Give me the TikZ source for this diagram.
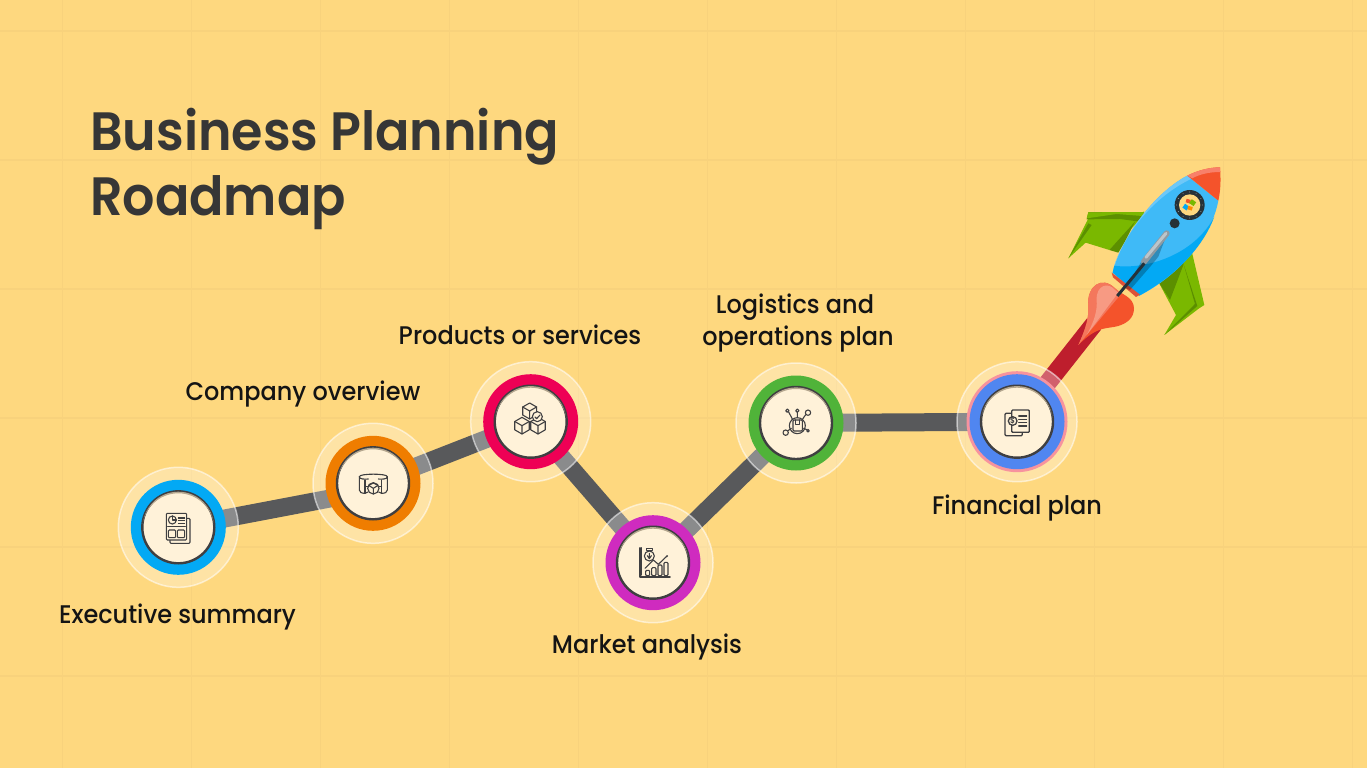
\documentclass[tikz,border=0pt]{standalone}
\usepackage{fontspec}
\setmainfont{Poppins}[UprightFont=* Medium,BoldFont=* SemiBold,FakeStretch=0.94]
\usetikzlibrary{backgrounds}
\pgfdeclarelayer{gridlayer}
\pgfdeclarelayer{roadlayer}
\pgfsetlayers{gridlayer,roadlayer,main}
\definecolor{bgc}{HTML}{FED87F}
\definecolor{gridc}{HTML}{F8D27C}
\definecolor{roadc}{HTML}{58595B}
\definecolor{trailc}{HTML}{BE1E2D}
\definecolor{creamc}{HTML}{FFF2D9}
\definecolor{inkc}{HTML}{3F3F41}
\definecolor{shadec}{HTML}{B5A78F}
\definecolor{titlec}{HTML}{363636}
\definecolor{labelc}{HTML}{141414}
\definecolor{ra}{HTML}{03A9F4}
\definecolor{rb}{HTML}{EF7D00}
\definecolor{rc}{HTML}{EE0055}
\definecolor{rd}{HTML}{CF2BBF}
\definecolor{re}{HTML}{50B339}
\definecolor{rf}{HTML}{5086F0}
\definecolor{pinkc}{HTML}{F7939E}
\definecolor{bodyc}{HTML}{3FBAF7}
\definecolor{bodyd}{HTML}{03A9F4}
\definecolor{bodyl}{HTML}{6EC8F8}
\definecolor{nosec}{HTML}{F4532B}
\definecolor{nosel}{HTML}{F8806A}
\definecolor{bandc}{HTML}{DE5238}
\definecolor{flamea}{HTML}{F4532B}
\definecolor{flameb}{HTML}{F4775C}
\definecolor{flamec}{HTML}{F79A83}
\definecolor{winga}{HTML}{7AB800}
\definecolor{wingd}{HTML}{5C8F00}
\definecolor{windc}{HTML}{263238}
\definecolor{pina}{HTML}{8E9AA2}
\definecolor{pinb}{HTML}{BCC5CA}
\tikzset{
  gridline/.style={gridc,line width=1.2pt},
  halo/.style={circle,inner sep=0pt,minimum size=120pt,fill=white,fill opacity=.3,draw=white,draw opacity=.55,line width=1.5pt},
  ringnode/.style={circle,inner sep=0pt,minimum size=95pt,fill=#1},
  hub/.style={circle,inner sep=0pt,minimum size=72pt,fill=creamc,draw=inkc,line width=2.4pt},
  road/.style={roadc,line width=18pt},
  trail/.style={trailc,line width=18pt},
  steplabel/.style={text=labelc,font=\fontsize{25.5}{30}\selectfont,inner sep=0pt,anchor=base},
  titletext/.style={text=titlec,font=\fontsize{54}{60}\selectfont\bfseries,inner sep=0pt,anchor=base west},
  icon/.style={inkc,line width=1.1pt,line join=round,line cap=round},
  zoomed/.style 2 args={shift={(#1,#2)},x=.3333pt,y=-.3333pt},
}
\begin{document}
\begin{tikzpicture}[x=1pt,y=-1pt]
\useasboundingbox (0,0) rectangle (1367,768);
\begin{pgfonlayer}{gridlayer}
\fill[bgc] (0,0) rectangle (1367,768);
\foreach \gx in {62.6,191.6,320.6,449.6,578.6,707.6,836.6,965.6,1094.6,1223.6,1352.6}
  \draw[gridline] (\gx,0) -- (\gx,768);
\foreach \gy in {31,160,289,418,547,676}
  \draw[gridline] (0,\gy) -- (1367,\gy);
\end{pgfonlayer}

% stops
\node[halo] (ha) at (178.3,527.3) {};
\node[halo] (hb) at (373,483.3) {};
\node[halo] (hc) at (530.7,421.7) {};
\node[halo] (hd) at (653,562.7) {};
\node[halo] (he) at (796,423) {};
\node[halo] (hf) at (1017,421.7) {};
\node[circle,inner sep=0pt,minimum size=101pt,fill=pinkc] (pf) at (1017,421.7) {};
\node[ringnode=ra] (na) at (178.3,527.3) {};
\node[ringnode=rb] (nb) at (373,483.3) {};
\node[ringnode=rc] (nc) at (530.7,421.7) {};
\node[ringnode=rd] (nd) at (653,562.7) {};
\node[ringnode=re] (ne) at (796,423) {};
\node[ringnode=rf] (nf) at (1017,421.7) {};
\foreach \n in {a,b,c,d,e,f}{
  \node[hub] (i\n) at (n\n) {};
  \begin{scope}
    \clip (n\n.center) circle (35.6);
    \fill[shadec,even odd rule] (n\n.center) circle (37) ([yshift=-2pt]n\n.center) circle (36);
  \end{scope}
}
\coordinate (trailend) at (1094,324);
\begin{pgfonlayer}{roadlayer}
\draw[road] (na.center) -- ([yshift=-7pt]nb.center);
\draw[road] (nb.center) -- (nc.center);
\draw[road] (nc.center) -- (nd.center);
\draw[road] (nd.center) -- (ne.center);
\draw[road] (ne.center) -- (nf.center);
\draw[trail] (nf.center) -- (trailend);
\end{pgfonlayer}

% icon 1: report
\begin{scope}[zoomed={135}{490},icon]
\draw[fill=creamc,rounded corners=1pt] (105,85) rectangle (165,160);
\draw[fill=creamc,rounded corners=1pt] (94,70) rectangle (155,150);
\draw (112,90) circle (12);
\draw (112,78) -- (112,90) -- (124,90);
\draw (130,84) -- (149,84) (130,92) -- (149,92) (130,100) -- (149,100);
\draw (98,109) -- (151,109);
\draw[rounded corners=1pt] (100,120) rectangle (122,143);
\draw[rounded corners=1pt] (127,120) rectangle (149,143);
\end{scope}

% icon 2: cylinder
\begin{scope}[zoomed={345}{460},icon]
\draw (43,50) .. controls (43,40) and (127,40) .. (127,50) .. controls (127,58) and (110,58) .. (100,57)  (70,57) .. controls (60,58) and (43,58) .. (43,50);
\draw (43,50) -- (43,90) .. controls (43,97) and (50,100) .. (60,100) -- (69,96);
\draw (127,50) -- (127,90) .. controls (127,97) and (120,100) .. (110,100) -- (101,96);
\draw (60,60) -- (60,100) (110,60) -- (110,100);
\draw (60,80) -- (68,80) (102,80) -- (110,80);
\draw (85,85) circle (17);
\draw (85,85) -- (85,102) (85,85) -- (71,76) (85,85) -- (99,76);
\draw (71,76) -- (85,69) -- (99,76);
\end{scope}

% icon 3: cubes
\begin{scope}[zoomed={503}{395},icon]
\foreach \cx/\cy/\cr in {80/48/24,57/92/25,105/92/25}{
  \draw[fill=creamc] (\cx,\cy-\cr) -- (\cx+.87*\cr,\cy-.5*\cr) -- (\cx+.87*\cr,\cy+.5*\cr) -- (\cx,\cy+\cr) -- (\cx-.87*\cr,\cy+.5*\cr) -- (\cx-.87*\cr,\cy-.5*\cr) -- cycle;
  \draw (\cx,\cy) -- (\cx,\cy+\cr) (\cx,\cy) -- (\cx+.87*\cr,\cy-.5*\cr) (\cx,\cy) -- (\cx-.87*\cr,\cy-.5*\cr);
}
\draw[fill=creamc] (103,65) circle (15);
\draw (96,66) -- (101,71) -- (111,60);
\end{scope}

% icon 4: market chart
\begin{scope}[zoomed={625}{535},icon]
\draw (45,38) -- (45,125) (50,38) -- (50,120);
\draw[line width=1.8pt] (45,125) -- (135,125);
\draw[rounded corners=1pt] (62,106) rectangle (74,122);
\draw[rounded corners=1pt] (80,98) rectangle (93,122);
\draw[rounded corners=1pt] (99,90) rectangle (111,122);
\draw[rounded corners=1pt] (117,82) rectangle (129,122);
\draw (60,100) -- (85,75) -- (100,88) -- (125,64);
\fill[inkc] (126,63) circle (3);
\draw[fill=creamc] (73,63) circle (15);
\draw (65,41) rectangle (82,47);
\draw (69,47) -- (69,49) (78,47) -- (78,49);
\draw (73,55) -- (73,70) (67,62) -- (73,71) -- (79,62);
\end{scope}

% icon 5: network with parcel
\begin{scope}[zoomed={768}{395},icon]
\draw (88,52) -- (88,68) (62,51) -- (73,72) (113,59) -- (104,72) (60,107) -- (70,100) (116,104) -- (107,100);
\draw (58,47) circle (5) (88,47) circle (5) (120,53) circle (8) (53,113) circle (8) (120,107) circle (4);
\draw (88,92) circle (24);
\draw[rounded corners=1pt] (75,75) rectangle (103,108);
\draw (83,75) -- (83,88) -- (95,88) -- (95,75);
\end{scope}

% icon 6: financial documents
\begin{scope}[zoomed={990}{395},icon]
\draw[line width=1.3pt,rounded corners=1pt] (45,55) rectangle (97,122);
\draw[fill=creamc,line width=1.3pt,rounded corners=1pt] (65,45) rectangle (118,112);
\draw (86,63) -- (110,63) (86,73) -- (110,73) (86,83) -- (110,83) (86,93) -- (110,93);
\draw[fill=creamc,line width=1.3pt] (68,78) circle (13);
\node[inkc,inner sep=0pt,font=\fontsize{8}{8}\selectfont\bfseries] (dollar) at (68,78) {\$};
\end{scope}

% rocket
\begin{scope}[zoomed={1020}{150}]
% wings
\fill[winga] (205,187) -- (372,186) -- (345,225) -- (268,300) -- (197,278) -- (145,325) -- (205,205) -- cycle;
\fill[wingd] (200,208) -- (205,187) -- (372,186) -- (360,215) -- (300,207) -- cycle;
\fill[winga] (200,205) -- (205,187) -- (372,186) -- (368,198) -- (290,192) -- cycle;
\fill[wingd] (145,325) -- (205,220) -- (215,225) -- cycle;
\fill[wingd] (268,300) -- (345,215) -- (315,275) -- (295,308) -- cycle;
\fill[winga] (515,303) -- (553,465) -- (536,476) -- (433,555) -- (468,495) -- (415,395) -- cycle;
\fill[wingd] (490,340) -- (532,468) -- (433,555) -- (525,462) -- cycle;
\fill[wingd] (415,395) -- (490,335) -- (490,345) -- (450,450) -- cycle;
% body
\fill[bodyc] (502,77) .. controls (400,130) and (300,270) .. (278,368) -- (358,437) .. controls (480,375) and (575,260) .. (595,152) -- cycle;
\fill[bodyl] (502,77) .. controls (400,130) and (300,270) .. (278,368) -- (283,345) .. controls (315,250) and (400,140) .. (517,85) -- cycle;
\fill[bodyd] (283,347) .. controls (370,360) and (520,320) .. (583,200) .. controls (550,290) and (470,375) .. (358,437) -- (278,368) -- cycle;
% nose
\fill[nosec] (502,77) .. controls (535,60) and (570,52) .. (600,52) .. controls (603,90) and (602,120) .. (595,152) -- cycle;
\fill[nosel] (502,77) .. controls (535,60) and (570,52) .. (600,52) -- (601,66) .. controls (570,66) and (540,72) .. (517,85) -- cycle;
% band
\fill[bandc] (275,368) -- (360,434) -- (348,441) -- (279,382) -- cycle;
% flame
\fill[flamea] (175,585) .. controls (200,530) and (207,500) .. (205,465) .. controls (200,410) and (245,375) .. (285,415) .. controls (300,432) and (342,440) .. (342,475) .. controls (342,505) and (320,520) .. (295,528) .. controls (260,538) and (235,525) .. (175,585) -- cycle;
\fill[flameb] (175,585) .. controls (200,530) and (207,500) .. (205,465) .. controls (200,410) and (245,375) .. (285,415) -- (305,430) -- cycle;
\fill[flamec] (200,555) .. controls (225,510) and (232,480) .. (230,450) .. controls (228,405) and (265,395) .. (285,420) -- (295,428) -- cycle;
% pin
\fill[black,opacity=.25] (365,333) -- (435,268) -- (415,320) -- (395,345) -- (330,420) -- (318,415) -- cycle;
\draw[line width=6pt,color=pina,line cap=round] (372,335) -- (440,250);
\draw[line width=3pt,color=pinb,line cap=round] (378,322) -- (438,250);
\draw[line width=3pt,color=windc] (292,438) -- (373,340);
% window
\fill[windc] (509,165) circle (45);
\foreach \a in {0,30,...,330}
  \fill[white,opacity=.55] (509,165) ++(\a:39) circle (1.4);
\fill[bgc] (509,165) circle (32);
\fill[nosec,rotate around={-15:(505,154)}] (498,148) rectangle (511,159);
\fill[winga,rotate around={-35:(518,158)}] (510,151) rectangle (526,165);
\fill[ra,rotate around={-35:(497,171)}] (490,164) rectangle (505,178);
\fill[orange!90!yellow,rotate around={-15:(510,175)}] (503,169) rectangle (517,180);
\fill[windc] (464,220) circle (15);
\end{scope}

% texts
\node[titletext] (title1) at (90,150) {Business Planning};
\node[titletext] (title2) at (90,215) {Roadmap};
\node[steplabel] (la) at (177.5,623) {Executive summary};
\node[steplabel] (lb) at (303,400) {Company overview};
\node[steplabel] (lc) at (520,344) {Products or services};
\node[steplabel] (le1) at (795,313) {Logistics and};
\node[steplabel] (le2) at (798,345) {operations plan};
\node[steplabel] (ld) at (647,653) {Market analysis};
\node[steplabel] (lf) at (1017,514) {Financial plan};
\end{tikzpicture}
\end{document}
